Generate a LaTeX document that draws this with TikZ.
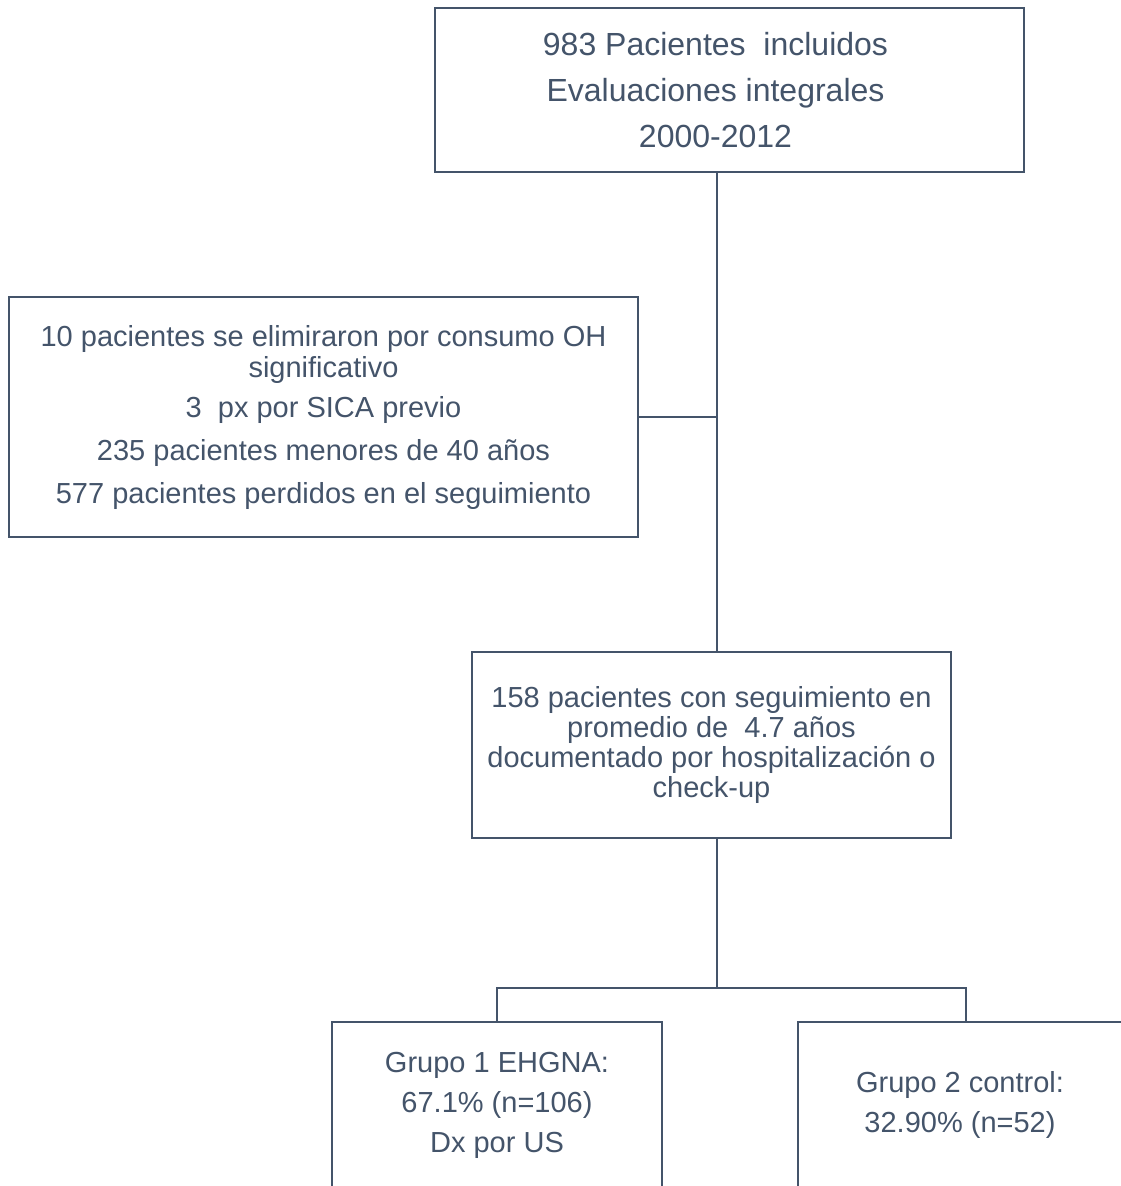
\documentclass[tikz,border=0pt]{standalone}
\usepackage{fontspec}
\setmainfont{Liberation Sans}
\definecolor{slate}{HTML}{44546A}

\tikzset{
  flowbox/.style={draw=slate, line width=2.8pt, text=slate, align=center, inner sep=0pt},
  flowtext/.style={text=slate, align=center, inner sep=0pt},
  flowline/.style={draw=slate, line width=2.8pt}
}

\begin{document}
\begin{tikzpicture}[x=1pt, y=-1pt]

 \useasboundingbox (0,0) rectangle (1121,1186);
 \clip (0,0) rectangle (1121,1186);

 % boxes
 \node[flowbox, minimum width=589pt, minimum height=164pt] (incl) at (729.5,90) {};
 \node[flowtext, font=\fontsize{32}{46}\selectfont] (inclText) at (715.5,90)
   {983 Pacientes \ incluidos\\ Evaluaciones integrales\\ 2000-2012};
 \node[flowbox, minimum width=629pt, minimum height=240pt, font=\fontsize{29}{31}\selectfont] (excl) at (323.5,417)
   {10 pacientes se elimiraron por consumo OH\\ significativo\\[9pt] 3 \ px por SICA previo\\[12pt] 235 pacientes menores de 40 años\\[12pt] 577 pacientes perdidos en el seguimiento};
 \node[flowbox, minimum width=479pt, minimum height=186pt, font=\fontsize{29}{30}\selectfont] (segui) at (711.5,745)
   {158 pacientes con seguimiento en\\ promedio de \ 4.7 años\\ documentado por hospitalización o\\ check-up};
 \node[flowbox, minimum width=330pt, minimum height=166pt, font=\fontsize{29}{40}\selectfont] (grupoA) at (497,1105)
   {Grupo 1 EHGNA:\\ 67.1\% (n=106)\\ Dx por US};
 \node[flowbox, minimum width=336pt, minimum height=166pt] (grupoB) at (966,1105) {};
 \node[flowtext, font=\fontsize{29}{40}\selectfont] (grupoBText) at (960,1105)
   {Grupo 2 control:\\ 32.90\% (n=52)};

 % connectors
 \coordinate (trunk) at (717,0);
 \coordinate (fork) at (717,988);
 \draw[flowline] (incl.south -| trunk) -- (segui.north -| trunk);
 \draw[flowline] (excl.east) -- (excl.east -| trunk);
 \draw[flowline] (segui.south -| trunk) -- (fork);
 \draw[flowline] (grupoA.north) |- (fork) -| (grupoB.north);

\end{tikzpicture}
\end{document}
